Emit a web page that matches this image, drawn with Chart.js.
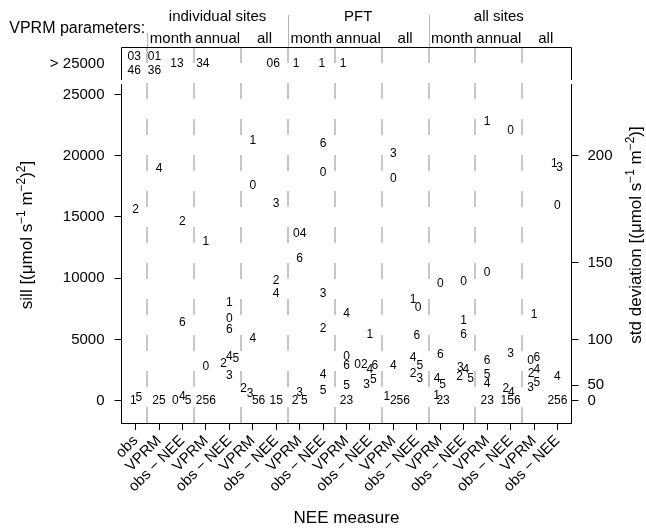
<!DOCTYPE html>
<html><head><meta charset="utf-8">
<script src="https://cdn.jsdelivr.net/npm/chart.js@4.4.1/dist/chart.umd.min.js"></script>
<style>html,body{margin:0;padding:0;background:#fff}</style>
</head><body>
<canvas id="c" width="646" height="529"></canvas>
<script>
// ---------- data ----------
const measureLabels = ['obs',
  'VPRM','obs − NEE','VPRM','obs − NEE','VPRM','obs − NEE',
  'VPRM','obs − NEE','VPRM','obs − NEE','VPRM','obs − NEE',
  'VPRM','obs − NEE','VPRM','obs − NEE','VPRM','obs − NEE'];
const paramGroups = ['individual sites','PFT','all sites'];
const paramPeriods = ['month','annual','all'];
const sillTicks = [0,5000,10000,15000,20000,25000];
const stdTicks = [0,50,100,150,200];
const overLabel = '> 25000';

// sites plotted in the main panel (column = NEE measure index 1..19)
const pointColumn = [
  1,1,1, 2,2, 3,3,3,3,3, 4,4,4, 5,5,5,5,5,5,5, 6,6,6,6,6,6, 7,7,7,7,
  8,8,8,8,8, 9,9,9,9,9,9, 10,10,10,10,10, 11,11,11,11,11,11, 12,12,12,12,12,
  13,13,13,13,13,13,13, 14,14,14,14,14,14, 15,15,15,15,15,15,15, 16,16,16,16,16,16,
  17,17,17,17,17, 18,18,18,18,18,18,18, 19,19,19,19,19];
const pointOffset = [
  0,-0.1,0.14, 0,0, 0,0,-0.3,0,0.24, 0,0,0, 0,0,0,-0.24,0,0.28,0, 0,0,0,-0.39,-0.11,0.25, 0,0,0,0,
  0,0,0,-0.19,0.2, 0,0,0,0,0,0, 0,0,0,0,0, 0,-0.38,0,0.21,-0.14,0.14, 0,0,0,-0.28,0.28,
  -0.16,0.05,0,-0.16,0.13,-0.16,0.13, 0,0,-0.14,0.1,-0.16,0.12, 0,0,0,-0.14,0.09,-0.17,0.29, 0,0,0,0,0,0,
  0,0,-0.2,0.03,0, 0,-0.15,0.12,-0.12,0.12,-0.15,0.12, -0.13,0.09,0,0,0];
const pointSill = [
  15570,0,240, 18900,0, 14590,6360,0,320,0, 12960,2770,0, 8030,6670,5770,2990,3590,3400,2010,
  21230,17530,5090,1000,600,0, 16060,9800,8710,0,
  13610,11630,650,0,0, 20960,18620,8770,5910,2090,780, 7130,3590,2830,1190,0,
  5360,2970,2560,2830,1280,1680, 20150,18160,2830,300,0,
  8220,7620,5280,3500,2830,2230,1820, 9530,3780,1820,1280,370,0,
  9710,6500,5360,2720,2500,1950,1820, 22740,10480,3240,2150,1360,0,
  22050,3860,1000,650,0, 6990,3240,3540,2230,2560,1090,1460, 19330,19060,15900,1950,0];
const pointSite = [
  '2','1','5', '4','25', '2','6','0','4','5', '1','0','256', '1','0','6','2','4','5','3',
  '1','0','4','2','3','56', '3','2','4','15',
  '04','6','3','2','5', '6','0','3','2','4','5', '4','0','6','5','23',
  '1','02','4','6','3','5', '3','0','4','1','256',
  '1','0','6','4','5','2','3', '0','6','4','5','1','23',
  '0','1','6','3','4','2','5', '1','0','6','5','4','23',
  '0','3','2','4','156', '1','0','6','2','4','3','5', '1','3','0','4','256'];

// sites whose sill exceeds 25000
const overColumn = [1,2,3,4,7,8,9,10];
const overOffset = [-0.06,-0.19,-0.23,-0.13,-0.13,-0.15,-0.05,-0.15];
const overSites = ['03\n46','01\n36','13','34','06','1','1','1'];

// ---------- chart ----------
const FONT = "'Liberation Sans', Arial, Helvetica, sans-serif";
Chart.defaults.font.family = FONT;
Chart.defaults.color = '#000';
const Y_MIN = -1829, Y_MAX = 28879, OVER_Y = 27500;

function drawRich(ctx, parts, x, y, rot, size) {
  ctx.save();
  ctx.translate(x, y); ctx.rotate(rot);
  const sup = size * 0.7;
  let total = 0;
  const w = parts.map(p => { ctx.font = (p.s ? sup : size) + 'px ' + FONT; const m = ctx.measureText(p.t).width; total += m; return m; });
  let cx = -total / 2;
  ctx.textAlign = 'left'; ctx.textBaseline = 'alphabetic'; ctx.fillStyle = '#000';
  parts.forEach((p, i) => { ctx.font = (p.s ? sup : size) + 'px ' + FONT; ctx.fillText(p.t, cx, p.s ? -size * 0.42 : 0); cx += w[i]; });
  ctx.restore();
}

const overlay = {
  id: 'overlay',
  beforeDatasetsDraw(chart) {
    const {ctx, chartArea: a, scales: {x}} = chart;
    ctx.save();
    ctx.strokeStyle = '#c6c6c6'; ctx.lineWidth = 2; ctx.setLineDash([16, 20]);
    for (let k = 0; k < 9; k++) {
      const px = Math.round(x.getPixelForValue(1.5 + 2 * k));
      ctx.beginPath(); ctx.moveTo(px, a.top); ctx.lineTo(px, a.bottom); ctx.stroke();
    }
    ctx.restore();
  },
  afterDatasetsDraw(chart) {
    const {ctx, chartArea: a, scales: {x}} = chart;
    ctx.save();
    // site labels
    ctx.fillStyle = '#000'; ctx.textAlign = 'center'; ctx.textBaseline = 'middle';
    ctx.font = '12px ' + FONT;
    chart.getDatasetMeta(0).data.forEach((el, i) => ctx.fillText(pointSite[i], el.x, el.y));
    chart.getDatasetMeta(1).data.forEach((el, i) => {
      const lines = overSites[i].split('\n');
      lines.forEach((t, j) => ctx.fillText(t, el.x, el.y + (j - (lines.length - 1) / 2) * 14));
    });
    // box lines
    const L = a.left, R = a.right, T = a.top, gapTop = T + 33, mainTop = T + 37;
    ctx.strokeStyle = '#000'; ctx.lineWidth = 1;
    ctx.beginPath();
    ctx.moveTo(L, gapTop); ctx.lineTo(L, T + 0.5); ctx.lineTo(R, T + 0.5); ctx.lineTo(R, gapTop);
    ctx.moveTo(L, mainTop); ctx.lineTo(L, a.bottom);
    ctx.moveTo(R, mainTop); ctx.lineTo(R, a.bottom);
    ctx.stroke();
    // header separators
    ctx.strokeStyle = '#b4b4b4';
    [[1.5, 33], [7.5, 15], [13.5, 15]].forEach(([c, y0]) => {
      const px = Math.round(x.getPixelForValue(c)) + 0.5;
      ctx.beginPath(); ctx.moveTo(px, y0); ctx.lineTo(px, T); ctx.stroke();
    });
    // headers
    ctx.fillStyle = '#000'; ctx.textBaseline = 'alphabetic'; ctx.textAlign = 'center';
    ctx.font = '15px ' + FONT;
    paramGroups.forEach((g, i) => ctx.fillText(g, x.getPixelForValue(4.5 + 6 * i), 21));
    for (let i = 0; i < 9; i++) ctx.fillText(paramPeriods[i % 3], x.getPixelForValue(2.5 + 2 * i), 43);
    ctx.font = '16px ' + FONT; ctx.textAlign = 'right';
    ctx.fillText('VPRM parameters:', x.getPixelForValue(1.5) - 2, 32.5);
    ctx.restore();
    // axis titles with superscripts
    const cy = (a.top + a.bottom) / 2;
    drawRich(ctx, [{t:'sill [(μmol s'},{t:'−1',s:1},{t:' m'},{t:'−2',s:1},{t:')'},{t:'2',s:1},{t:']'}], 32, cy, -Math.PI / 2, 17);
    drawRich(ctx, [{t:'std deviation [(μmol s'},{t:'−1',s:1},{t:' m'},{t:'−2',s:1},{t:')]'}], 641, cy, -Math.PI / 2, 17);
  }
};

new Chart(document.getElementById('c'), {
  type: 'scatter',
  data: { datasets: [
    { data: pointColumn.map((c, i) => ({x: c + pointOffset[i], y: pointSill[i]})), pointRadius: 0, pointHoverRadius: 0 },
    { data: overColumn.map((c, i) => ({x: c + overOffset[i], y: OVER_Y})), pointRadius: 0, pointHoverRadius: 0 }
  ]},
  options: {
    responsive: false, animation: false, devicePixelRatio: 1,
    layout: { padding: { top: 47, left: 0, right: 0, bottom: 0 } },
    plugins: { legend: { display: false }, tooltip: { enabled: false } },
    events: [],
    scales: {
      x: {
        type: 'linear', min: 0.4, max: 19.6,
        afterBuildTicks: s => { s.ticks = measureLabels.map((_, i) => ({value: i + 1})); },
        ticks: { autoSkip: false, minRotation: 45, maxRotation: 45, font: {size: 15}, padding: 2,
                 callback: v => measureLabels[Math.round(v) - 1] },
        grid: { drawOnChartArea: false, drawTicks: true, tickLength: 7, color: '#000' },
        border: { display: true, color: '#000', width: 1 },
        title: { display: true, text: 'NEE measure', font: {size: 17}, padding: {top: 0, bottom: 0} },
        afterFit: s => { s.height = 106; }
      },
      y: {
        type: 'linear', position: 'left', min: Y_MIN, max: Y_MAX,
        afterBuildTicks: s => { s.ticks = sillTicks.map(v => ({value: v})).concat([{value: OVER_Y}]); },
        ticks: { font: {size: 15}, padding: 10, callback: v => v === OVER_Y ? overLabel : String(v) },
        grid: { drawOnChartArea: false, tickLength: 7,
                color: c => (c.tick && c.tick.value === OVER_Y) ? 'rgba(0,0,0,0)' : '#000' },
        border: { display: false },
        afterFit: s => { s.width = 121.5; }
      },
      y2: {
        type: 'linear', position: 'right', min: Y_MIN, max: Y_MAX,
        afterBuildTicks: s => { s.ticks = stdTicks.map(v => ({value: v * v / 2})); },
        ticks: { font: {size: 15}, padding: 9, callback: v => String(Math.round(Math.sqrt(2 * v))) },
        grid: { drawOnChartArea: false, tickLength: 7, color: '#000' },
        border: { display: false },
        afterFit: s => { s.width = 74.5; }
      }
    }
  },
  plugins: [overlay]
});
</script>
</body></html>
